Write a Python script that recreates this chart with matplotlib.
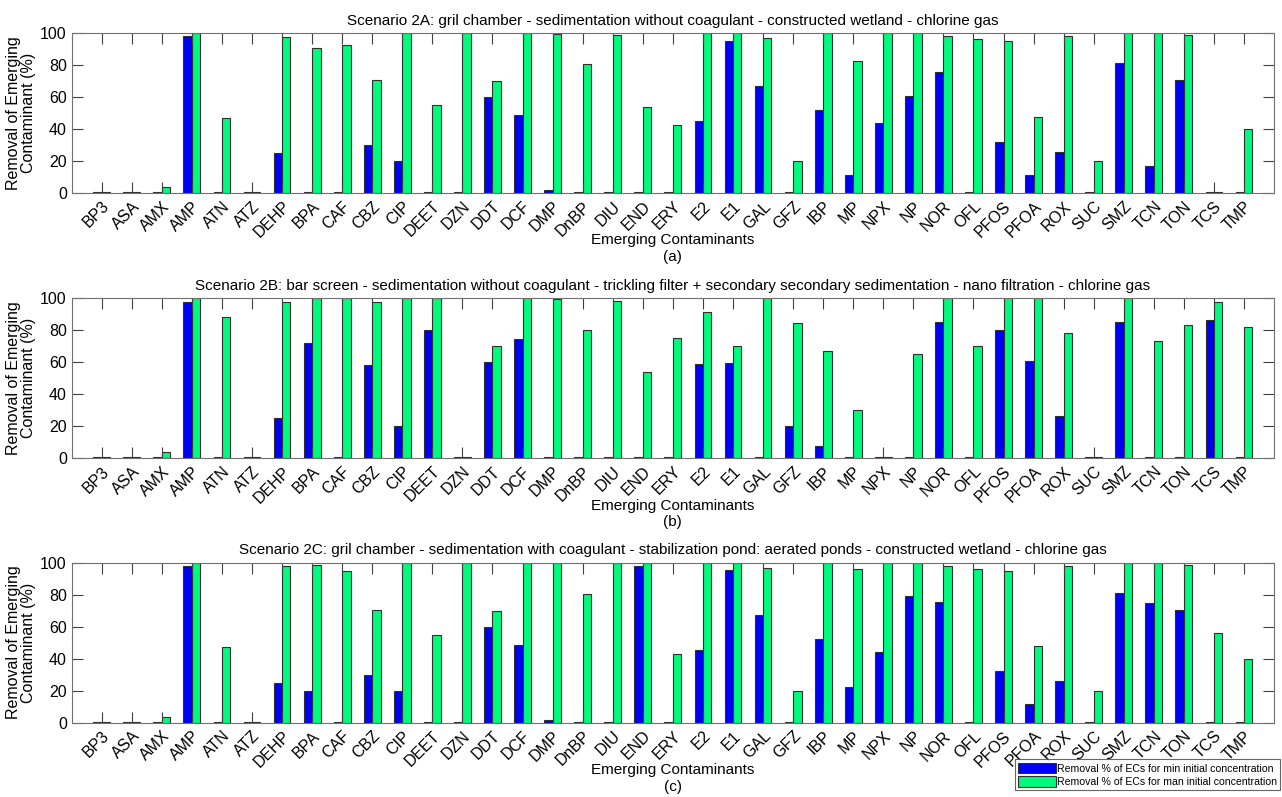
import matplotlib.pyplot as plt
import numpy as np

plt.rcParams['font.family'] = ['Liberation Sans', 'DejaVu Sans']

# contaminant codes (x axis)
contaminants = ["BP3", "ASA", "AMX", "AMP", "ATN", "ATZ", "DEHP", "BPA", "CAF",
                "CBZ", "CIP", "DEET", "DZN", "DDT", "DCF", "DMP", "DnBP", "DIU",
                "END", "ERY", "E2", "E1", "GAL", "GFZ", "IBP", "MP", "NPX", "NP",
                "NOR", "OFL", "PFOS", "PFOA", "ROX", "SUC", "SMZ", "TCN", "TON",
                "TCS", "TMP"]

# Scenario 2A removal (%)
a_min = [0.7, 0.7, 0.7, 98, 0.7, 0.7, 25, 0.7, 0.7, 30, 20, 0.7, 0.7, 60, 48.7,
         1.7, 0.7, 0.7, 0.7, 0.7, 45.3, 95.2, 67, 0.7, 52, 11.6, 44, 60.5, 75.5,
         0.7, 32, 11.6, 25.8, 0.7, 81.3, 16.8, 70.3, 0.7, 0.7]
a_max = [0.7, 0.7, 3.7, 100, 47, 0.7, 97.7, 90.5, 92.6, 70.4, 100, 55, 100, 70,
         100, 99.6, 80.4, 98.7, 54, 42.8, 100, 100, 96.6, 19.8, 100, 82.7, 99.7,
         99.7, 98.2, 96, 95.2, 47.5, 98.2, 20.2, 100, 100, 98.7, 0.7, 40]

# Scenario 2B removal (%)
b_min = [0.7, 0.7, 0.7, 97.7, 0.7, 0.7, 25, 72.2, 0.7, 58, 20, 80.2, 0.7, 60,
         74.7, 0.7, 0.7, 0.7, 0.7, 0.7, 59, 59.6, 0.7, 20, 7.9, 0.7, 0.7, 0.7,
         85.4, 0.7, 80, 60.6, 26.2, 0.7, 85.4, 0.7, 0.7, 86.5, 0.7]
b_max = [0.7, 0.7, 3.7, 100, 88.4, 0.7, 97.6, 100, 100, 97.5, 100, 100, 0.7,
         70.2, 100, 99.6, 80.2, 98.5, 54, 75.4, 91.6, 70.2, 100, 84.3, 66.8,
         30.2, 0.7, 65.2, 100, 70.2, 100, 100, 78, 0.7, 100, 73.2, 83.4, 97.6,
         82.3]

# Scenario 2C removal (%)
c_min = [0.7, 0.7, 0.7, 97.7, 0.7, 0.7, 25, 20, 0.7, 30, 20, 0.7, 0.7, 60, 48.6,
         1.7, 0.7, 0.7, 97.7, 0.7, 45.3, 95.2, 67, 0.7, 52, 22.6, 44.3, 79.4,
         75.3, 0.7, 32, 11.8, 26, 0.7, 81.2, 74.8, 70.3, 0.7, 0.7]
c_max = [0.7, 0.7, 3.7, 100, 47.2, 0.7, 97.6, 98.6, 94.8, 70.6, 100, 54.8, 100,
         70, 100, 99.6, 80.4, 99.5, 100, 43.2, 100, 100, 96.4, 19.8, 100, 96.2,
         99.7, 100, 98, 96, 95, 47.8, 98, 19.8, 100, 100, 98.5, 55.8, 40]

titles = [
    "Scenario 2A: gril chamber - sedimentation without coagulant - "
    "constructed wetland - chlorine gas",
    "Scenario 2B: bar screen - sedimentation without coagulant - trickling "
    "filter + secondary secondary sedimentation - nano filtration - chlorine gas",
    "Scenario 2C: gril chamber - sedimentation with coagulant - stabilization "
    "pond: aerated ponds - constructed wetland - chlorine gas",
]
panel_tags = ["(a)", "(b)", "(c)"]
legend_labels = ["Removal % of ECs for min initial concentration",
                 "Removal % of ECs for man initial concentration"]

blue = "#0000f5"
green = "#00fa7d"

fig = plt.figure(figsize=(12.82, 7.97), dpi=100)

# axes boxes in figure fractions (left, bottom, width, height)
left, width, height = 0.0559, 0.9379, 0.2010
bottoms = [0.7577, 0.4249, 0.0932]

x = np.arange(1, len(contaminants) + 1)
bw = 0.28
series = [(a_min, a_max), (b_min, b_max), (c_min, c_max)]

for i, (mins, maxs) in enumerate(series):
    ax = fig.add_axes([left, bottoms[i], width, height])
    ax.bar(x - bw / 2, mins, bw, color=blue, edgecolor="#303030",
           linewidth=0.8, label=legend_labels[0])
    ax.bar(x + bw / 2, maxs, bw, color=green, edgecolor="#303030",
           linewidth=0.8, label=legend_labels[1])

    ax.set_xlim(0, len(contaminants) + 1)
    ax.set_ylim(0, 100)
    ax.set_yticks([0, 20, 40, 60, 80, 100])
    ax.set_xticks(x)
    ax.set_xticklabels(contaminants, rotation=45, ha="right", va="top",
                       rotation_mode="anchor", fontsize=11)
    ax.tick_params(axis="both", direction="in", length=8, width=0.8,
                   color="#404040", top=True, right=True, labelsize=11.5)
    ax.tick_params(axis="x", pad=4)
    for sp in ax.spines.values():
        sp.set_color("#707070")
        sp.set_linewidth(0.8)

    ax.set_title(titles[i], fontsize=11, pad=6)
    ax.set_ylabel("Removal of Emerging\nContaminant (%)", fontsize=11.5,
                  linespacing=1.0, labelpad=3)
    ax.text(0.5, -0.295, "Emerging Contaminants", transform=ax.transAxes,
            ha="center", va="center", fontsize=11)
    ax.text(0.5, -0.40, panel_tags[i], transform=ax.transAxes,
            ha="center", va="center", fontsize=11)

handles, labels = ax.get_legend_handles_labels()
leg = fig.legend(handles, labels, loc="lower right",
                 bbox_to_anchor=(0.9985, 0.009), fontsize=7.6, frameon=True,
                 fancybox=False, handlelength=3.6, handleheight=1.2,
                 handletextpad=0.1, labelspacing=0.2, borderpad=0.3,
                 borderaxespad=0)
leg.get_frame().set_edgecolor("#404040")
leg.get_frame().set_linewidth(0.8)

fig.savefig("out.png", dpi=100)
